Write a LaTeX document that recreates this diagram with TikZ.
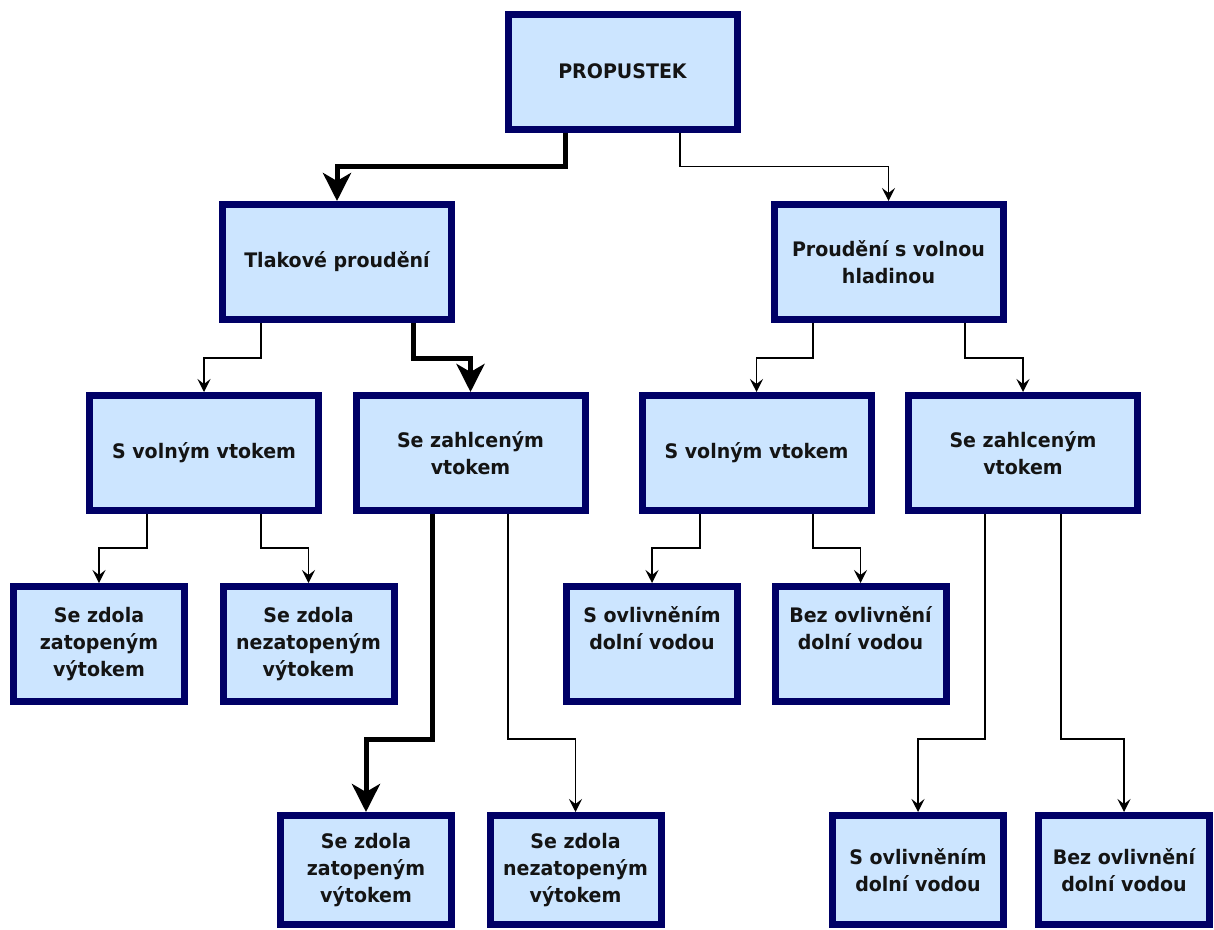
\documentclass[tikz,border=0pt]{standalone}
\usepackage{fontspec}
\setmainfont{DejaVu Sans}[FakeStretch=0.95]
\usetikzlibrary{arrows.meta}
\definecolor{boxfill}{HTML}{CCE5FF}
\definecolor{boxline}{HTML}{000066}
\definecolor{txt}{HTML}{141414}
\begin{document}
\begin{tikzpicture}[x=1pt,y=-1pt,
  box/.style={draw=boxline, fill=boxfill, line width=7pt, align=center,
    font=\fontsize{20}{27}\selectfont\bfseries, text=txt, inner sep=0pt},
  bigbox/.style={box, minimum width=229pt, minimum height=115pt},
  smallbox/.style={box, minimum width=171pt, minimum height=115pt},
  lowbox/.style={box, minimum width=171pt, minimum height=109pt},
  thinarr/.style={line width=1.5pt, -{Stealth[length=13pt,width=13pt,inset=5pt]}},
  thkarr/.style={line width=5pt, -{Stealth[length=28pt,width=28pt,inset=8pt]}},
]
\fill[white] (0,0) rectangle (1214,929);
\useasboundingbox (0,0) rectangle (1214,929);

\node[bigbox] (P) at (622.5,71.5) {PROPUSTEK};
\node[bigbox] (T) at (337,262) {Tlakové proudění};
\node[bigbox] (V) at (888.5,262) {Proudění s volnou\\hladinou};

\node[bigbox] (L1) at (204,453) {S volným vtokem};
\node[bigbox] (L2) at (470.5,453) {Se zahlceným\\vtokem};
\node[bigbox] (R1) at (756.5,453) {S volným vtokem};
\node[bigbox] (R2) at (1023,453) {Se zahlceným\\vtokem};

\node[smallbox] (A1) at (99,644) {Se zdola\\zatopeným\\výtokem};
\node[smallbox] (A2) at (308.5,644) {Se zdola\\nezatopeným\\výtokem};
\node[smallbox] (A3) at (652,644) {S ovlivněním\\dolní vodou\\[5pt]};
\node[smallbox] (A4) at (860.5,644) {Bez ovlivnění\\dolní vodou\\[5pt]};

\node[lowbox] (B1) at (366,870) {Se zdola\\zatopeným\\výtokem};
\node[lowbox] (B2) at (575.5,870) {Se zdola\\nezatopeným\\výtokem};
\node[lowbox] (B3) at (918,870) {S ovlivněním\\dolní vodou};
\node[lowbox] (B4) at (1124,870) {Bez ovlivnění\\dolní vodou};

\draw[thkarr] ([xshift=-57pt]P.south) -- ++(0,34) -| (T.north);
\draw[thinarr] ([xshift=57.5pt]P.south) -- ++(0,34) -| (V.north);

\draw[thinarr] ([xshift=-76pt]T.south) -- ++(0,35) -| (L1.north);
\draw[thkarr] ([xshift=76pt]T.south) -- ++(0,35) -| (L2.north);
\draw[thinarr] ([xshift=-75.5pt]V.south) -- ++(0,35) -| (R1.north);
\draw[thinarr] ([xshift=76.5pt]V.south) -- ++(0,35) -| (R2.north);

\draw[thinarr] ([xshift=-57pt]L1.south) -- ++(0,34) -| (A1.north);
\draw[thinarr] ([xshift=57pt]L1.south) -- ++(0,34) -| (A2.north);
\draw[thinarr] ([xshift=-56.5pt]R1.south) -- ++(0,34) -| (A3.north);
\draw[thinarr] ([xshift=56.5pt]R1.south) -- ++(0,34) -| (A4.north);

\draw[thkarr] ([xshift=-38.5pt]L2.south) -- ++(0,225) -| (B1.north);
\draw[thinarr] ([xshift=37.5pt]L2.south) -- ++(0,225) -| (B2.north);
\draw[thinarr] ([xshift=-38pt]R2.south) -- ++(0,225) -| (B3.north);
\draw[thinarr] ([xshift=38pt]R2.south) -- ++(0,225) -| (B4.north);
\end{tikzpicture}
\end{document}
